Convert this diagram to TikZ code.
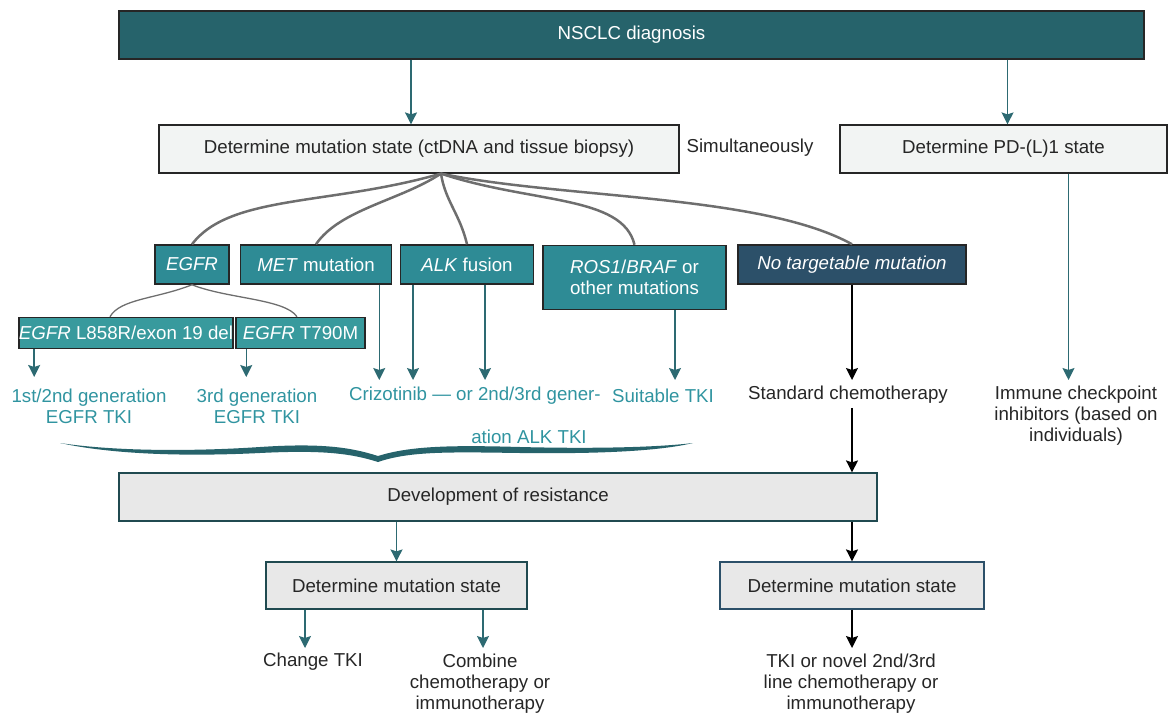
\documentclass[tikz,border=0pt]{standalone}
\usepackage{fontspec}
\setmainfont{Liberation Sans}
\usetikzlibrary{arrows.meta}
\definecolor{tealtop}{HTML}{26636B}
\definecolor{tealbox}{HTML}{2E8B95}
\definecolor{tealsub}{HTML}{389A9D}
\definecolor{bluebox}{HTML}{2C5069}
\definecolor{tealtext}{HTML}{3094A0}
\definecolor{tealline}{HTML}{2D6A72}
\definecolor{greylight}{HTML}{F2F4F3}
\definecolor{greyres}{HTML}{E8E8E8}
\definecolor{greycurve}{HTML}{6E6E6E}
\definecolor{textdark}{HTML}{262626}
\tikzstyle{box_top} = [draw=black!85, line width=1.2pt, fill=tealtop, text=white, minimum height=48pt, inner sep=0pt]
\tikzstyle{box_light} = [draw=black!85, line width=1.2pt, fill=greylight, text=textdark, minimum height=48pt, inner sep=0pt]
\tikzstyle{box_mut} = [draw=black!85, line width=1.5pt, fill=tealbox, text=white, minimum height=39pt, inner sep=0pt, align=center]
\tikzstyle{box_sub} = [box_mut, fill=tealsub, minimum height=31pt]
\tikzstyle{box_res} = [draw=tealline!70!black, line width=1.2pt, fill=greyres, text=textdark, minimum height=47pt, inner sep=0pt]
\tikzstyle{txt_teal} = [text=tealtext, align=center, inner sep=4pt]
\tikzstyle{txt_dark} = [text=textdark, align=center, inner sep=4pt]
\tikzstyle{arrow_teal} = [draw=tealline, line width=1.4pt, -{Stealth[length=12pt,width=12pt,inset=2pt]}]
\tikzstyle{arrow_black} = [draw=black, line width=1.5pt, -{Stealth[length=12pt,width=12pt,inset=2pt]}]
\tikzstyle{edge_branch} = [draw=greycurve, line width=2.5pt]
\tikzstyle{edge_thin} = [draw=greycurve, line width=1.3pt]

\begin{document}
\begin{tikzpicture}[x=1pt, y=-1pt, font=\fontsize{18.7}{21}\selectfont]
\useasboundingbox (0,0) rectangle (1169,717);

\node (diag) at (631.5,35) [box_top, minimum width=1025pt] {NSCLC diagnosis};
\node (mut) at (419,149) [box_light, minimum width=520pt] {Determine mutation state (ctDNA and tissue biopsy)};
\node (simul) at (750,148) [txt_dark] {Simultaneously};
\node (pdl) at (1003.5,149) [box_light, minimum width=327pt] {Determine PD-(L)1 state};

\node (egfr) at (192,264.5) [box_mut, minimum width=74pt] {\textit{EGFR}};
\node (met) at (316,264.5) [box_mut, minimum width=151pt] {\textit{MET} mutation};
\node (alk) at (467,264.5) [box_mut, minimum width=133pt] {\textit{ALK} fusion};
\node (ros) at (634.5,277.5) [box_mut, minimum width=183pt, minimum height=64pt] {\textit{ROS1}/\textit{BRAF} or\\other mutations};
\node (notgt) at (852,264.5) [box_mut, fill=bluebox, minimum width=228pt] {\textit{No targetable mutation}};
\node (l858) at (126,333) [box_sub, minimum width=213pt] {\textit{EGFR} L858R/exon 19 del};
\node (t790) at (300.5,333) [box_sub, minimum width=129pt] {\textit{EGFR} T790M};

\node (gen12) at (89,406) [txt_teal] {1st/2nd generation\\EGFR TKI};
\node (gen3) at (257,406) [txt_teal] {3rd generation\\EGFR TKI};
\node (crizo) at (349,396) [txt_teal, anchor=west, inner sep=0pt] {Crizotinib — or 2nd/3rd gener-};
\node (alktki) at (529,437) [txt_teal] {ation ALK TKI};
\node (suit) at (663,396) [txt_teal] {Suitable TKI};
\node (std) at (848,395) [txt_dark] {Standard chemotherapy};
\node (immune) at (1076,416) [txt_dark] {Immune checkpoint\\inhibitors (based on\\individuals)};

\node (res) at (498,497) [box_res, minimum width=758pt, minimum height=48pt] {Development of resistance};
\node (detL) at (396.5,585.5) [box_res, minimum width=261pt] {Determine mutation state};
\node (detR) at (852,585.5) [box_res, draw=bluebox, minimum width=264pt] {Determine mutation state};
\node (change) at (313,662) [txt_dark] {Change TKI};
\node (combine) at (480,684) [txt_dark] {Combine\\chemotherapy or\\immunotherapy};
\node (novel) at (851,684) [txt_dark] {TKI or novel 2nd/3rd\\line chemotherapy or\\immunotherapy};

\draw[arrow_teal] ([xshift=-8]mut.north |- diag.south) -- ([xshift=-8]mut.north);
\draw[arrow_teal] ([xshift=4]pdl.north |- diag.south) -- ([xshift=4]pdl.north);
\draw[arrow_teal] ([xshift=65]pdl.south) -- ([xshift=65]pdl.south |- 0,380);

\coordinate (hub) at ([xshift=22]mut.south);
\draw[edge_branch] (hub) .. controls +(-111,32) and +(38,-50) .. (egfr.north);
\draw[edge_branch] (hub) .. controls +(-41,27) and +(24,-35) .. (met.north);
\draw[edge_branch] (hub) .. controls +(4,27) and +(-7,-30) .. (alk.north);
\draw[edge_branch] (hub) .. controls +(90,30) and +(-12,-50) .. (ros.north);
\draw[edge_branch] (hub) .. controls +(120,25) and +(-90,-50) .. (notgt.north);
\draw[edge_thin] (egfr.south) .. controls +(-35,14) and +(10,-18) .. ([xshift=-16]l858.north);
\draw[edge_thin] (egfr.south) .. controls +(35,14) and +(-12,-18) .. ([xshift=-3.5]t790.north);

\draw[arrow_teal] ([xshift=16]l858.south west) -- ([xshift=16]l858.south west |- 0,377);
\draw[arrow_teal] ([xshift=11]t790.south west) -- ([xshift=11]t790.south west |- 0,377);
\draw[arrow_teal] ([xshift=-13]met.south east) -- ([xshift=-13]met.south east |- 0,380);
\draw[arrow_teal] ([xshift=-54]alk.south) -- ([xshift=-54]alk.south |- 0,380);
\draw[arrow_teal] ([xshift=18]alk.south) -- ([xshift=18]alk.south |- 0,380);
\draw[arrow_teal] ([xshift=40.5]ros.south) -- ([xshift=40.5]ros.south |- 0,380);
\draw[arrow_black] (notgt.south) -- (notgt.south |- 0,380);
\draw[arrow_black] (notgt.south |- std.south) -- (notgt.south |- res.north);

\fill[tealtop] (60,443) .. controls (120,452) and (200,451) .. (260,447)
  .. controls (320,443) and (350,447) .. (378,456)
  .. controls (410,446) and (450,445) .. (520,447)
  .. controls (600,449) and (660,447) .. (693,443)
  .. controls (660,451) and (600,454) .. (520,453)
  .. controls (450,452) and (410,451) .. (378,462)
  .. controls (350,453) and (320,450) .. (260,453)
  .. controls (200,456) and (120,456) .. (60,443) -- cycle;

\draw[arrow_teal] (detL.north |- res.south) -- (detL.north);
\draw[arrow_black] (detR.north |- res.south) -- (detR.north);
\draw[arrow_teal] ([xshift=-91.5]detL.south) -- ([xshift=-91.5]detL.south |- 0,648);
\draw[arrow_teal] ([xshift=86.5]detL.south) -- ([xshift=86.5]detL.south |- 0,648);
\draw[arrow_black] (detR.south) -- (detR.south |- 0,648);
\end{tikzpicture}
\end{document}
